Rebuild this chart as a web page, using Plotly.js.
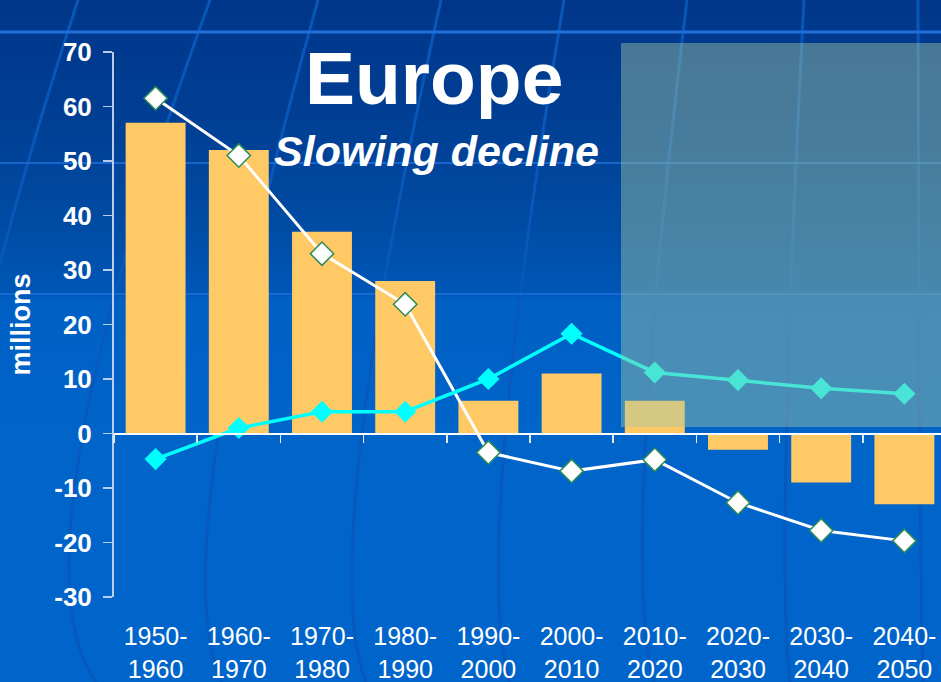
<!DOCTYPE html>
<html>
<head>
<meta charset="utf-8">
<script src="https://cdn.plot.ly/plotly-3.0.1.min.js"></script>
<style>
  html, body { margin: 0; padding: 0; }
  body {
    width: 941px; height: 682px; overflow: hidden;
    background: linear-gradient(to bottom, #00368a 0px, #003f94 120px, #004ba3 220px, #0056b6 292px, #0060c4 300px, #0064c9 430px, #0065cb 682px);
  }
  #chart { width: 941px; height: 682px; }
</style>
</head>
<body>
<div id="chart"></div>
<script>
// ---- data ----
const periods = ["1950-<br>1960", "1960-<br>1970", "1970-<br>1980", "1980-<br>1990", "1990-<br>2000",
                 "2000-<br>2010", "2010-<br>2020", "2020-<br>2030", "2030-<br>2040", "2040-<br>2050"];
const barValues = [57, 52, 37, 28, 6, 11, 6, -3, -9, -13];
const whiteLine = [61.5, 51, 33, 23.7, -3.5, -6.9, -4.8, -12.7, -17.8, -19.7];
const cyanLine  = [-4.7, 1, 4, 4, 10, 18.3, 11.2, 9.8, 8.3, 7.3];
const yTicks = [-30, -20, -10, 0, 10, 20, 30, 40, 50, 60, 70];

// ---- layout helpers ----
const W = 941, H = 682;
const M = {l: 114, r: 0, t: 52, b: 85};
const pw = W - M.l - M.r, ph = H - M.t - M.b;
const px = x => (x - M.l) / pw;
const py = y => (H - M.b - y) / ph;

// decorative globe lines (background only)
const meridians = [[78, -40, -30], [210, 80, 96], [318, 216, 222], [441, 360, 366],
                   [564, 504, 510], [687, 645, 654], [804, 786, 790], [918, 920, 923]];
const shapes = [];
meridians.forEach(m => {
  const xt = m[0], xm = m[1], xb = m[2];
  const xc = 2 * xm - 0.5 * (xt + xb);
  shapes.push({
    type: 'path', xref: 'paper', yref: 'paper', layer: 'below',
    path: `M ${px(xt)},${py(0)} Q ${px(xc)},${py(559)} ${px(xb)},${py(682)}`,
    line: {color: 'rgba(8,88,186,0.95)', width: 3}
  });
});
[32, 163, 294].forEach((yy, i) => {
  shapes.push({
    type: 'line', xref: 'paper', yref: 'paper', layer: 'below',
    x0: px(0), x1: px(941), y0: py(yy), y1: py(yy),
    line: {color: i === 0 ? '#1f70d8' : 'rgba(30,110,215,0.8)', width: i === 0 ? 3 : 2}
  });
});
// shaded projection panel
shapes.push({
  type: 'rect', xref: 'paper', yref: 'paper', layer: 'above',
  x0: px(621), x1: px(945), y0: py(427), y1: py(43),
  fillcolor: 'rgba(160,198,165,0.45)', line: {width: 0}
});

const traces = [
  {
    type: 'bar', x: periods, y: barValues, xaxis: 'x', yaxis: 'y',
    marker: {color: '#FFCA66', line: {width: 0}}, hoverinfo: 'skip'
  },
  {
    type: 'scatter', mode: 'lines+markers', x: periods, y: whiteLine, xaxis: 'x2', yaxis: 'y',
    line: {color: '#ffffff', width: 3},
    marker: {symbol: 'diamond', size: 18, color: '#ffffff', line: {color: '#2e8b57', width: 1.5}}
  },
  {
    type: 'scatter', mode: 'lines+markers', x: periods, y: cyanLine, xaxis: 'x2', yaxis: 'y',
    line: {color: '#00ffff', width: 3.5},
    marker: {symbol: 'diamond', size: 17, color: '#00ffff', line: {width: 0}}
  }
];

const font = 'Liberation Sans, Arial, sans-serif';
const xr = [-0.5, 9.44];

const layout = {
  width: W, height: H,
  margin: M,
  paper_bgcolor: 'rgba(0,0,0,0)',
  plot_bgcolor: 'rgba(0,0,0,0)',
  showlegend: false,
  bargap: 0.28,
  font: {family: font, color: '#ffffff'},
  xaxis: {
    type: 'category', categoryarray: periods, range: xr, fixedrange: true,
    showline: false, ticks: '', showgrid: false, zeroline: false,
    tickfont: {family: font, size: 25, color: '#ffffff'},
    ticklabelstandoff: 22
  },
  xaxis2: {
    type: 'category', categoryarray: periods, range: xr, overlaying: 'x',
    anchor: 'free', position: 30 / 100, side: 'bottom',
    showline: true, linecolor: '#ffffff', linewidth: 2,
    ticks: 'outside', tickson: 'boundaries', ticklen: 8, tickwidth: 1.5, tickcolor: '#dfe8f5',
    showticklabels: false, showgrid: false, zeroline: false
  },
  yaxis: {
    range: [-30, 70], tickvals: yTicks, ticktext: yTicks.map(String),
    showline: true, linecolor: 'rgba(205,220,240,0.9)', linewidth: 2,
    ticks: 'outside', ticklen: 9, tickwidth: 1.5, tickcolor: 'rgba(205,220,240,0.9)',
    showgrid: false, zeroline: false,
    tickfont: {family: font, size: 26, color: '#ffffff', weight: 'bold'},
    ticklabelstandoff: 6,
    title: {text: '<b>millions</b>', font: {family: font, size: 27, color: '#ffffff'}, standoff: 16}
  },
  shapes: shapes,
  annotations: [
    {text: '<b>Europe</b>', xref: 'paper', yref: 'paper', x: px(434), y: py(78),
     xanchor: 'center', yanchor: 'middle', showarrow: false,
     font: {family: font, size: 75, color: '#ffffff'}},
    {text: '<b><i>Slowing decline</i></b>', xref: 'paper', yref: 'paper', x: px(436), y: py(151),
     xanchor: 'center', yanchor: 'middle', showarrow: false,
     font: {family: font, size: 43, color: '#ffffff'}}
  ]
};

Plotly.newPlot('chart', traces, layout, {displayModeBar: false, staticPlot: true});
</script>
</body>
</html>
